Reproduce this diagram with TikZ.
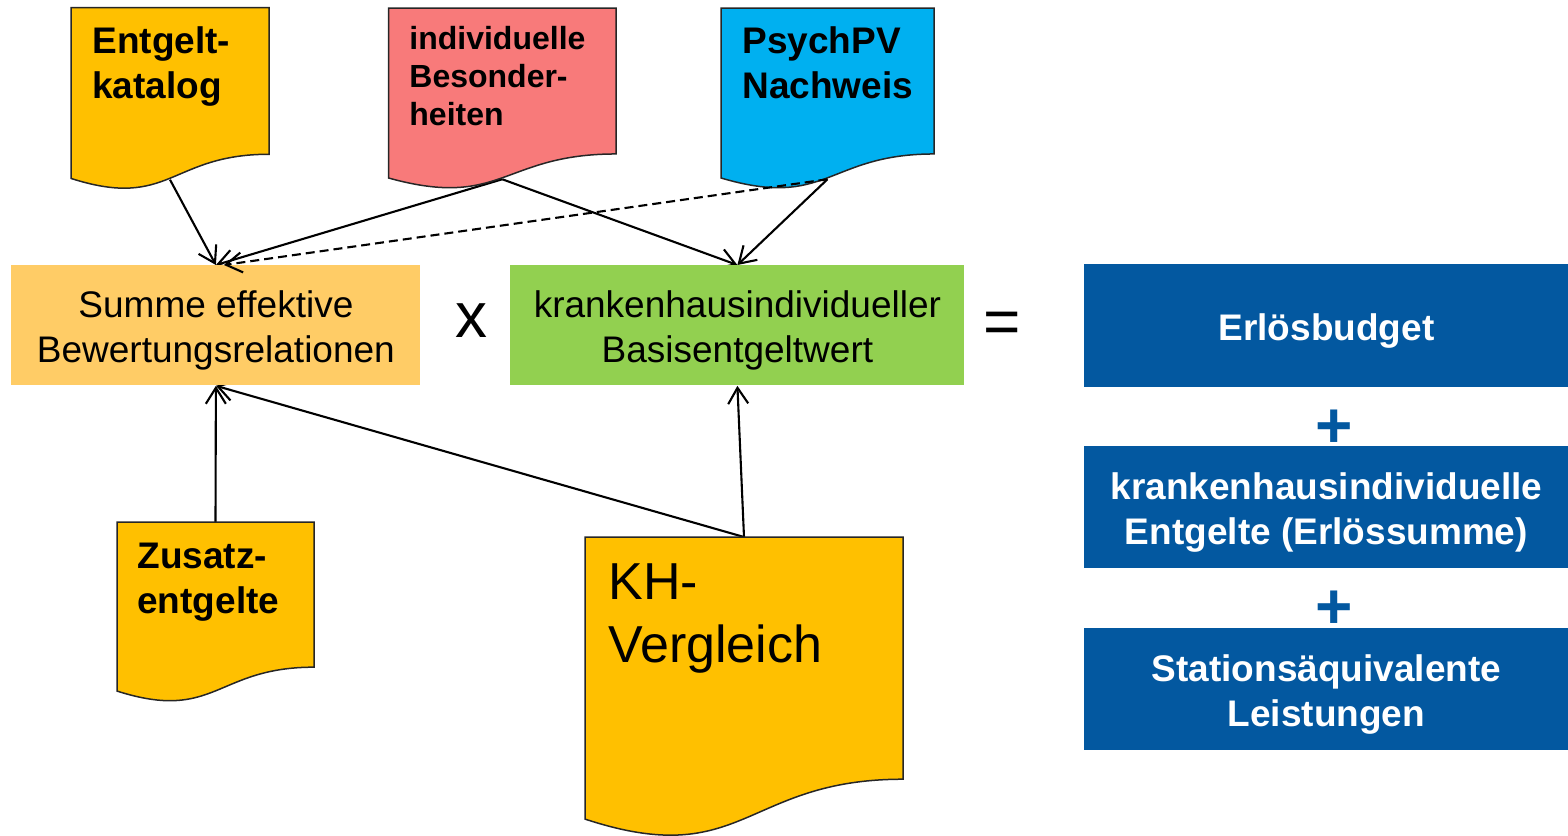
\documentclass[tikz,border=0pt]{standalone}
\usepackage{fontspec}
\setmainfont{Liberation Sans}
\usetikzlibrary{arrows.meta}
\pgfdeclarelayer{bg}
\pgfsetlayers{bg,main}
\definecolor{docorange}{HTML}{FFC000}
\definecolor{summefill}{HTML}{FFCC66}
\definecolor{docred}{HTML}{F87A7A}
\definecolor{docblue}{HTML}{00B0F0}
\definecolor{basisgreen}{HTML}{92D050}
\definecolor{darkblue}{HTML}{0358A0}
% document shape: name, x, y, w, h, fill
\newcommand\mydoc[6]{%
  \draw[docline, fill=#6] (#2,#3) -- ({#2+#4},#3) -- ({#2+#4},{#3+0.802*#5})
    .. controls ({#2+0.5*#4},{#3+0.802*#5}) and ({#2+0.5*#4},{#3+1.1075*#5}) .. (#2,{#3+0.934*#5}) -- cycle;
  \coordinate (#1-top) at ({#2+0.5*#4},#3);
  \coordinate (#1-bot) at ({#2+0.5*#4},{#3+0.941*#5});
}
\begin{document}
\begin{tikzpicture}[x=0.5pt,y=-0.5pt,
  docline/.style={draw=black!85, line width=0.75pt},
  doctext/.style={anchor=north west, inner sep=0pt, align=left, font=\bfseries\fontsize{18.5}{22.5}\selectfont},
  box/.style={anchor=north west, inner sep=0pt, align=center, text height=40.8pt, font=\fontsize{18.5}{22.5}\selectfont},
  bluebox/.style={box, fill=darkblue, text=white, minimum width=242pt, font=\bfseries\fontsize{18.5}{22.5}\selectfont},
  opsign/.style={anchor=base, inner sep=0pt, font=\fontsize{32}{32}\selectfont},
  plussign/.style={anchor=base, inner sep=0pt, text=darkblue, font=\bfseries\fontsize{32}{32}\selectfont},
  conn/.style={line width=1.05pt, -{Straight Barb[length=8pt,width=10pt,line width=1.05pt]}},
  dashconn/.style={conn, dash pattern=on 4.5pt off 2.5pt}
]
\useasboundingbox (0,0) rectangle (1568,835);

% document shapes
\mydoc{entdoc}{71}{7.5}{198}{183}{docorange}
\mydoc{inddoc}{388.5}{8}{227.5}{182}{docred}
\mydoc{psydoc}{721}{8}{213}{182}{docblue}
\mydoc{zusdoc}{117}{522}{197}{181}{docorange}
\mydoc{khdoc}{585}{537}{318}{302}{docorange}

% document texts
\node[doctext] (entgelt) at (92,26.5) {Entgelt-\\katalog};
\node[doctext, font=\bfseries\fontsize{16}{19}\selectfont] (indiv) at (409,26) {individuelle\\Besonder-\\heiten};
\node[doctext, font=\bfseries\fontsize{18.5}{22.5}\selectfont] (psych) at (742,26) {PsychPV\\Nachweis};
\node[doctext, font=\bfseries\fontsize{18.5}{22.5}\selectfont] (zusatz) at (137,543) {Zusatz-\\entgelte};
\node[doctext, font=\fontsize{26}{31.5}\selectfont] (khv) at (608,563) {KH-\\Vergleich};

% formula boxes
\node[box, fill=summefill, minimum width=204.5pt, minimum height=60pt] (summe) at (11,265) {Summe effektive\\Bewertungsrelationen};
\node[box, fill=basisgreen, minimum width=227pt, minimum height=60pt] (basis) at (510,265) {krankenhausindividueller\\Basisentgeltwert};
\node[opsign] (times) at (471,337) {x};
\node[opsign] (equals) at (1002,343) {=};

\node[bluebox, minimum height=61.5pt, text height=18.3pt] (budget) at (1084,264) {Erlösbudget};
\node[plussign] (plusa) at (1334,447.5) {+};
\node[bluebox, minimum height=61pt] (entgelte) at (1084,446) {krankenhausindividuelle\\Entgelte (Erlössumme)};
\node[plussign] (plusb) at (1334,628.5) {+};
\node[bluebox, minimum height=61pt] (stations) at (1084,628) {Stationsäquivalente\\Leistungen};

% connectors
\begin{pgfonlayer}{bg}
\draw[conn] (entdoc-bot) -- (summe.north);
\draw[conn] (inddoc-bot) -- (summe.north);
\draw[conn] (inddoc-bot) -- (basis.north);
\draw[conn] (psydoc-bot) -- (basis.north);
\draw[conn] (zusdoc-top) -- (summe.south);
\draw[conn] (khdoc-top) -- (summe.south);
\draw[conn] (khdoc-top) -- (basis.south);
\end{pgfonlayer}
\draw[dashconn] (psydoc-bot) -- ([xshift=4pt]summe.north);
\end{tikzpicture}
\end{document}
